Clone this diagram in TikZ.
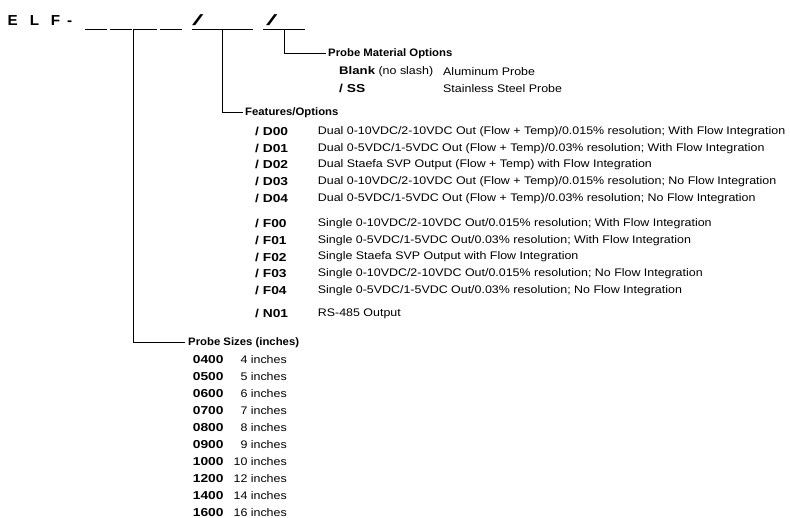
\documentclass[tikz,border=0pt]{standalone}
\usepackage{fontspec}
\setmainfont{Liberation Sans}[FakeStretch=1.13]
\newfontfamily\headfont{Liberation Sans}[FakeStretch=1.05]
\newfontfamily\codefont{Liberation Sans}[FakeStretch=1.2]
\newfontfamily\bigfont{Liberation Sans}[FakeStretch=1.05]
\begin{document}
\begin{tikzpicture}[x=1pt,y=-1pt,
  lbl/.style={inner sep=0pt,anchor=west,font=\fontsize{11}{13}\selectfont},
  desc/.style={lbl},
  code/.style={lbl,font=\codefont\bfseries\fontsize{11.5}{13}\selectfont},
  head/.style={lbl,font=\headfont\bfseries\fontsize{10.8}{12}\selectfont},
  big/.style={inner sep=0pt,anchor=base west,font=\bigfont\bfseries\fontsize{14.5}{16}\selectfont},
  slashmark/.style={inner sep=0pt,anchor=base west,font=\bigfont\fontsize{15}{16}\selectfont},
  wire/.style={line width=0.9pt},
  blank/.style={line width=0.9pt}]
\useasboundingbox (0,0) rectangle (790,517);
% part number
\node[big] (elf) at (7.5,25) {E\hspace{12pt}L\hspace{11.8pt}F\hspace{6.8pt}-};
\node[slashmark] (s1) at (192,25.5) {\scalebox{2.6}[1]{/}};
\node[slashmark] (s2) at (266,25.5) {\scalebox{2.6}[1]{/}};
\draw[blank] (85,29.3) -- (107,29.3);
\draw[blank] (110,29.3) -- (131.5,29.3);
\draw[blank] (133.3,29.3) -- (156.5,29.3);
\draw[blank] (160,29.3) -- (182,29.3);
\draw[blank] (192,29.3) -- (253,29.3);
\draw[blank] (263,29.3) -- (305,29.3);
\coordinate (u1) at (133.3,29.3);
\coordinate (u2) at (222.7,29.3);
\coordinate (u3) at (284.3,29.3);
% headings
\node[head] (mat) at (328,53.3) {Probe Material Options};
\node[head] (feat) at (245,112.8) {Features/Options};
\node[head] (size) at (188,342.3) {Probe Sizes (inches)};
\draw[wire] (u3) |- ([xshift=-2pt]mat.west);
\draw[wire] (u2) |- ([xshift=-2pt]feat.west);
\draw[wire] (u1) |- ([xshift=-3pt]size.west);
% material
\node[lbl] (mblank) at (339,71.7) {{\codefont\bfseries Blank} (no slash)};
\node[desc] (mal) at (443,71.7) {Aluminum Probe};
\node[code] (mss) at (339,88.3) {/ SS};
\node[desc] (mssd) at (443,88.3) {Stainless Steel Probe};
% features
\foreach \c/\t/\y in {
 D00/{Dual 0-10VDC/2-10VDC Out (Flow + Temp)/0.015\% resolution; With Flow Integration}/131.5,
 D01/{Dual 0-5VDC/1-5VDC Out (Flow + Temp)/0.03\% resolution; With Flow Integration}/148.2,
 D02/{Dual Staefa SVP Output (Flow + Temp) with Flow Integration}/164.9,
 D03/{Dual 0-10VDC/2-10VDC Out (Flow + Temp)/0.015\% resolution; No Flow Integration}/181.6,
 D04/{Dual 0-5VDC/1-5VDC Out (Flow + Temp)/0.03\% resolution; No Flow Integration}/198.3,
 F00/{Single 0-10VDC/2-10VDC Out/0.015\% resolution; With Flow Integration}/223.6,
 F01/{Single 0-5VDC/1-5VDC Out/0.03\% resolution; With Flow Integration}/240.3,
 F02/{Single Staefa SVP Output with Flow Integration}/257.0,
 F03/{Single 0-10VDC/2-10VDC Out/0.015\% resolution; No Flow Integration}/273.7,
 F04/{Single 0-5VDC/1-5VDC Out/0.03\% resolution; No Flow Integration}/290.4,
 N01/{RS-485 Output}/313.8}{
 \node[code] (c\c) at (255,\y) {/ \c};
 \node[desc] (d\c) at (317.7,\y) {\t};
}
% sizes
\foreach \c/\n [count=\i from 0] in {0400/4,0500/5,0600/6,0700/7,0800/8,0900/9,1000/10,1200/12,1400/14,1600/16}{
 \node[code] (p\c) at (192.7,{360+16.9*\i}) {\c};
 \node[desc,anchor=east] (q\c) at (287,{360+16.9*\i}) {\n\ inches};
}
\end{tikzpicture}
\end{document}
